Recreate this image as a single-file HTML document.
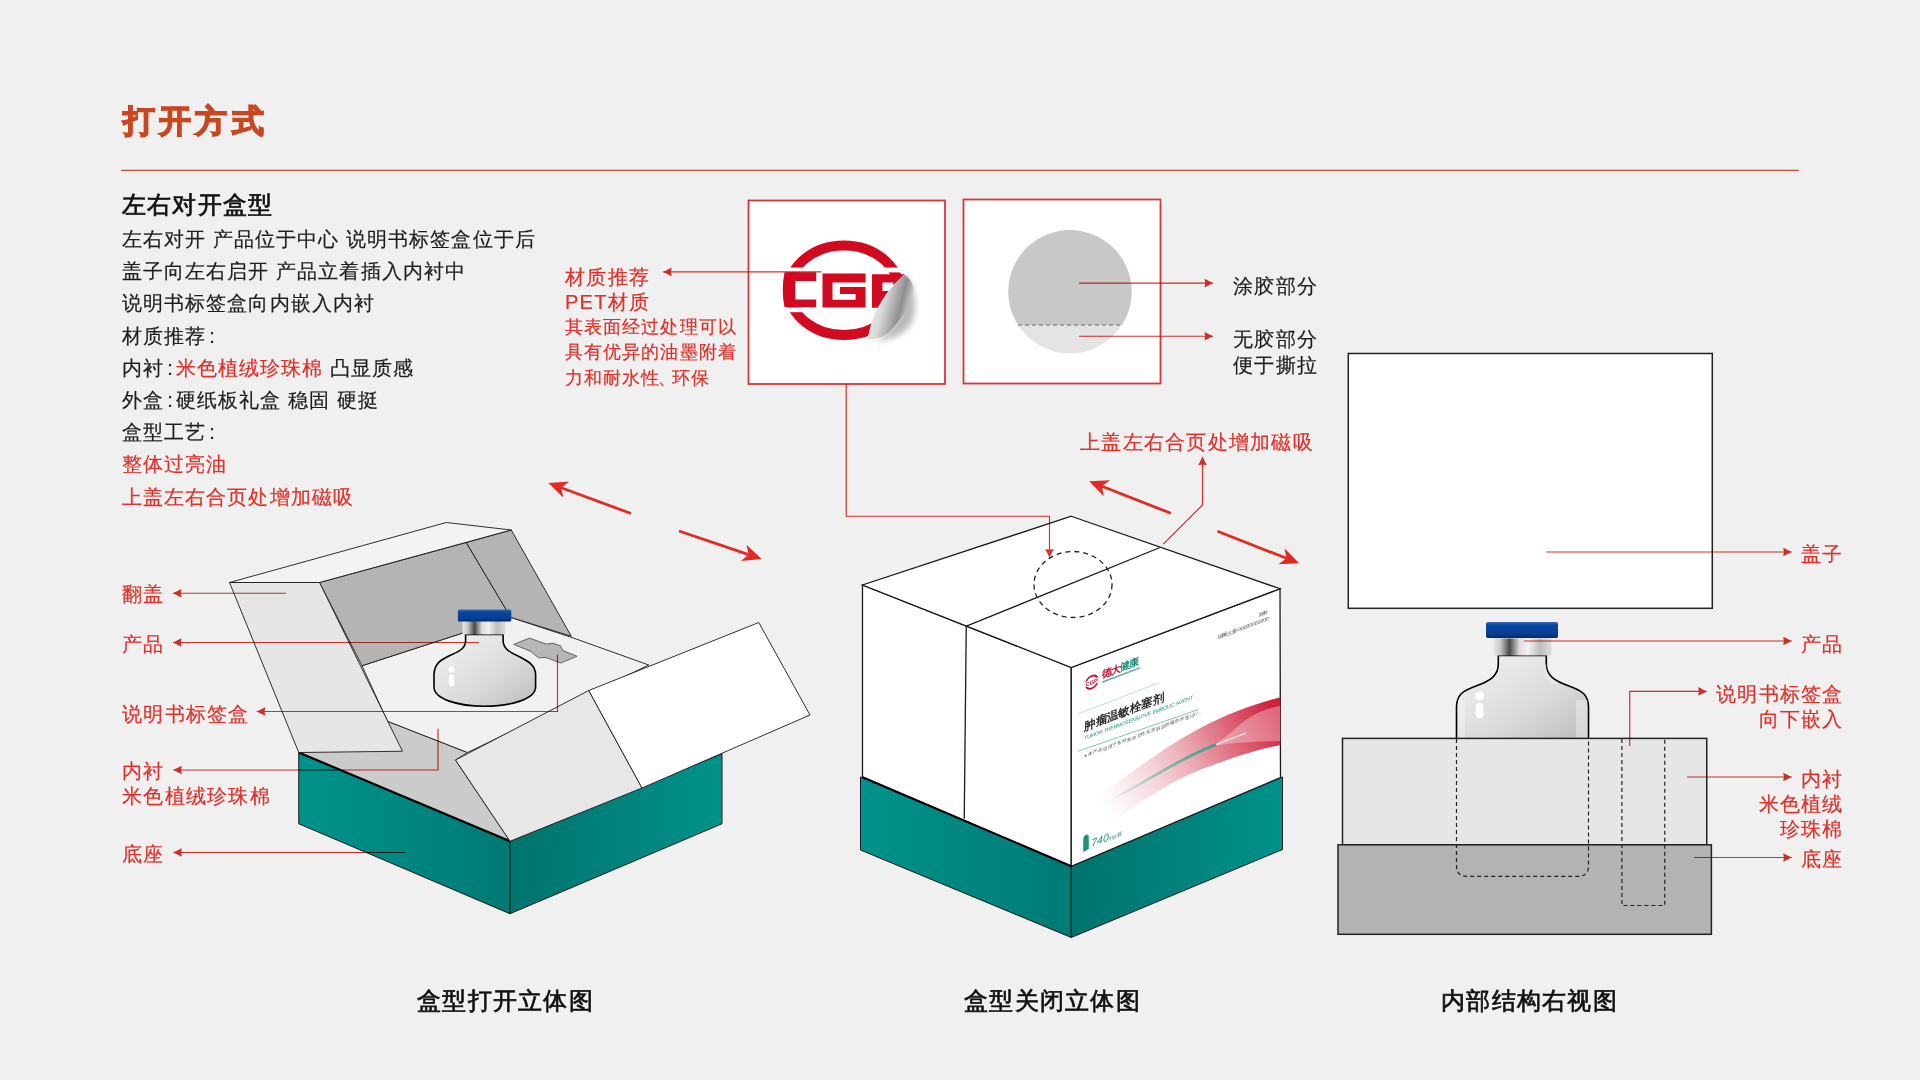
<!DOCTYPE html>
<html><head><meta charset="utf-8">
<style>
html,body{margin:0;padding:0}
body{width:1920px;height:1080px;overflow:hidden;background:#f0f0f0;position:relative;font-family:"Liberation Sans",sans-serif;color:#1e1e1e}
.t{position:absolute;white-space:nowrap;font-size:20px;line-height:32px;letter-spacing:1.25px;-webkit-text-stroke:0.2px currentColor}
.r{color:#e0302a}
.n{line-height:25.5px}
.ra{text-align:right;line-height:25px}
svg{position:absolute;left:0;top:0}
.cap{top:985px;font-size:24px;line-height:32px;letter-spacing:1.3px;color:#111;-webkit-text-stroke:0.7px #111}
</style></head><body>
<svg width="1920" height="1080" viewBox="0 0 1920 1080">
<defs>
<linearGradient id="tealL" x1="0" y1="0" x2="1" y2="0"><stop offset="0" stop-color="#00938b"/><stop offset="1" stop-color="#007a74"/></linearGradient>
<linearGradient id="tealR" x1="0" y1="0" x2="1" y2="0"><stop offset="0" stop-color="#00736d"/><stop offset="1" stop-color="#00928a"/></linearGradient>
<linearGradient id="cap" x1="0" y1="0" x2="0" y2="1"><stop offset="0" stop-color="#3d6db5"/><stop offset="0.2" stop-color="#0a47a0"/><stop offset="0.75" stop-color="#063e92"/><stop offset="1" stop-color="#042a66"/></linearGradient>
<linearGradient id="ring" x1="0" y1="0" x2="1" y2="0"><stop offset="0" stop-color="#e8e8e8"/><stop offset="0.12" stop-color="#c9c9c9"/><stop offset="0.28" stop-color="#4a4a4a"/><stop offset="0.45" stop-color="#dcdcdc"/><stop offset="0.6" stop-color="#f2f2f2"/><stop offset="0.8" stop-color="#bdbdbd"/><stop offset="1" stop-color="#e0e0e0"/></linearGradient>
<linearGradient id="glass" x1="0" y1="0" x2="1" y2="1"><stop offset="0" stop-color="#f4f4f6"/><stop offset="0.6" stop-color="#dadadc"/><stop offset="1" stop-color="#bdbbbd"/></linearGradient>
<linearGradient id="peel" x1="0" y1="0" x2="1" y2="1"><stop offset="0" stop-color="#f7f7f7"/><stop offset="0.5" stop-color="#d9d9d9"/><stop offset="0.8" stop-color="#9c9c9c"/><stop offset="1" stop-color="#e6e6e6"/></linearGradient>
<radialGradient id="shadow" cx="0.5" cy="0.5" r="0.5"><stop offset="0" stop-color="#000" stop-opacity="0.25"/><stop offset="1" stop-color="#000" stop-opacity="0"/></radialGradient>
<linearGradient id="swoosh" x1="0" y1="1" x2="1" y2="0"><stop offset="0" stop-color="#ffffff" stop-opacity="0"/><stop offset="0.45" stop-color="#e79aa6" stop-opacity="0.6"/><stop offset="1" stop-color="#d0283f"/></linearGradient>
</defs>
<line x1="121" y1="170.4" x2="1799" y2="170.4" stroke="#bf5534" stroke-width="1.3"/>
<polygon points="298.75,752.50 510.00,841.25 510.00,913.75 298.75,823.75" fill="url(#tealL)" stroke="#1a1a1a" stroke-width="1"/>
<polygon points="510.00,841.25 722.00,753.75 722.00,823.75 510.00,913.75" fill="url(#tealR)" stroke="#1a1a1a" stroke-width="1"/>
<polygon points="298.75,752.50 387.50,721.25 467.50,752.50 455.50,760.00 510.00,841.25" fill="#cbcbcb" stroke="#1a1a1a" stroke-width="0.8"/>
<line x1="298.75" y1="752.5" x2="510" y2="841.25" stroke="#000" stroke-width="2.2"/>
<polygon points="362.00,665.75 510.75,617.40 571.90,637.50 648.75,665.00 467.50,752.50 387.50,721.25" fill="#f1f1f1" stroke="#1a1a1a" stroke-width="0.9"/>
<polygon points="319.50,582.50 466.25,542.50 510.75,617.40 362.00,665.75" fill="#b4b4b4" stroke="#1a1a1a" stroke-width="0.9"/>
<polygon points="466.25,542.50 511.25,530.00 571.25,636.25 510.75,617.40" fill="#b4b4b4" stroke="#1a1a1a" stroke-width="0.9"/>
<polygon points="229.50,582.50 446.25,522.50 511.25,530.00 319.50,582.50" fill="#f3f3f3" stroke="#1a1a1a" stroke-width="0.9"/>
<polygon points="229.50,582.50 319.50,582.50 402.50,751.25 298.75,752.50" fill="#e6e6e6" stroke="#1a1a1a" stroke-width="0.9"/>
<polygon points="455.50,760.00 588.75,690.50 642.00,788.00 510.00,841.25" fill="#e7e7e7" stroke="#1a1a1a" stroke-width="0.9"/>
<polygon points="588.75,690.50 758.75,622.50 810.00,715.00 642.00,788.00" fill="#ffffff" stroke="#1a1a1a" stroke-width="0.9"/>
<polygon points="513.75,644.40 529.40,638.10 546.00,644.00 553.00,643.20 560.50,645.80 563.00,650.60 577.00,656.25 560.60,663.10 546.00,657.50 538.50,657.80 534.50,654.50 531.00,651.50" fill="#b7b7b7" stroke="#333" stroke-width="0.7"/>
<path d="M465.6,634.4 L465.6,640.5 C465.6,648 460,651 452,654.5 C442,659 434,663 434,675 L434,687 C434,699 458,706.25 484.4,706.25 C511,706.25 535.6,699 535.6,687 L535.6,675 C535.6,665 528,661 518,656 C509,652 503.1,648 503.1,640.5 L503.1,634.4 Z" fill="url(#glass)" stroke="#000" stroke-width="1.6"/>
<rect x="462.5" y="621.25" width="43.1" height="13.2" fill="url(#ring)"/>
<rect x="457.9" y="609.6" width="53.4" height="11.8" rx="1.5" fill="url(#cap)"/>
<circle cx="451.5" cy="669.5" r="3" fill="#fff"/><rect x="448.8" y="674.5" width="5.4" height="12" rx="2.7" fill="#fff"/>
<polygon points="860.50,777.00 1071.25,866.25 1071.25,937.50 860.50,850.00" fill="url(#tealL)" stroke="#1a1a1a" stroke-width="1"/>
<polygon points="1071.25,866.25 1282.50,777.00 1282.50,849.50 1071.25,937.50" fill="url(#tealR)" stroke="#1a1a1a" stroke-width="1"/>
<polygon points="862.50,585.00 1071.25,667.50 1071.25,866.25 862.50,777.00" fill="#fff" stroke="#1a1a1a" stroke-width="1.3"/>
<polygon points="1071.25,667.50 1280.00,588.75 1280.50,777.50 1071.25,866.25" fill="#fff" stroke="#1a1a1a" stroke-width="1.3"/>
<polygon points="1071.25,516.25 1280.00,588.75 1071.25,667.50 862.50,585.00" fill="#fff" stroke="#1a1a1a" stroke-width="1.3"/>
<line x1="862" y1="777" x2="1071.25" y2="866.25" stroke="#000" stroke-width="2"/>
<polyline points="1160.00,547.50 966.25,626.25 964.25,818.75" fill="none" stroke="#1a1a1a" stroke-width="1.3"/>
<ellipse cx="1073" cy="584.5" rx="39" ry="33" fill="none" stroke="#222" stroke-width="1.3" stroke-dasharray="5 4"/>
<g transform="translate(1071.25,667.5) skewY(-20.669)">
<linearGradient id="sw2" x1="0" y1="0" x2="1" y2="0"><stop offset="0" stop-color="#f3c9cf" stop-opacity="0"/><stop offset="0.35" stop-color="#eeb3bc" stop-opacity="0.55"/><stop offset="0.7" stop-color="#e07a8a"/><stop offset="1" stop-color="#cf1d3a"/></linearGradient>
<linearGradient id="sw3" x1="0" y1="0" x2="1" y2="0"><stop offset="0" stop-color="#ffffff" stop-opacity="0"/><stop offset="0.5" stop-color="#ffffff" stop-opacity="0.35"/><stop offset="1" stop-color="#ffffff" stop-opacity="0.5"/></linearGradient>
<circle cx="20.5" cy="22.4" r="6.2" fill="none" stroke="#c8102e" stroke-width="1.8"/>
<rect x="13.5" y="19.8" width="14" height="5.2" fill="#fff"/><text x="20.5" y="24.6" font-size="5.6" font-weight="700" fill="#c8102e" text-anchor="middle" font-family="Liberation Sans">CGP</text>
<text x="30.5" y="22" font-size="10" font-weight="700" fill="#c8102e" font-family="Liberation Sans" letter-spacing="-0.5">德大</text><text x="49" y="22" font-size="10" font-weight="700" fill="#1f8f7a" font-family="Liberation Sans" letter-spacing="-0.5">健康</text>
<rect x="31" y="25.5" width="38" height="1.6" fill="#1f8f7a" opacity="0.7"/>
<line x1="7" y1="49" x2="87" y2="48.4" stroke="#9ccfc3" stroke-width="0.6"/>
<text x="13" y="68" font-size="11.5" font-weight="700" fill="#2a2a2a" font-family="Liberation Sans" letter-spacing="-0.2">肿瘤温敏栓塞剂</text>
<text x="13" y="77.5" font-size="5.2" fill="#1f8f7a" font-family="Liberation Sans" letter-spacing="-0.15">TUMOR THERMOSENSITIVE EMBOLIC AGENT</text>
<line x1="7" y1="86.3" x2="127" y2="90" stroke="#3aa892" stroke-width="0.6"/>
<text x="13" y="95" font-size="4.5" fill="#555" font-family="Liberation Sans">● 本产品适用于各种富血管性实质脏器肿瘤的栓塞治疗。</text>
<text x="197" y="20" font-size="4.8" fill="#444" text-anchor="end" font-family="Liberation Sans">商标</text>
<text x="197.5" y="27" font-size="5" fill="#444" text-anchor="end" font-family="Liberation Sans">国械注册:00000000000</text>
<path d="M12,177 L12,189 L17.5,188 L17.5,176 Q17.5,173 15,173 Q12,173 12,177 Z" fill="#1f8f7a"/><text x="20" y="187" font-size="10.5" fill="#1f8f7a" font-family="Liberation Sans" font-style="italic">740<tspan font-size="5">mg/瓶</tspan></text>
</g>
<linearGradient id="sw4" gradientUnits="userSpaceOnUse" x1="1105" y1="815" x2="1280" y2="720"><stop offset="0" stop-color="#f5d5da" stop-opacity="0"/><stop offset="0.3" stop-color="#efbac2" stop-opacity="0.6"/><stop offset="0.65" stop-color="#e38392"/><stop offset="1" stop-color="#d0203c"/></linearGradient>
<path d="M1080,812 C1100,795 1125,776.3 1162.6,750.4 C1195,730 1225,712 1280.2,697.2 L1280.2,745.2 C1260,749 1240,755 1199.6,770 C1175,780 1150,795 1121.9,815.2 C1110,824 1100,832 1090,840 Z" fill="url(#sw4)"/>
<path d="M1216,744 C1232,735 1245,712 1280.2,706 L1280.2,741 C1255,742 1235,742 1216,746 Z" fill="#fff" opacity="0.33"/>
<linearGradient id="cath" gradientUnits="userSpaceOnUse" x1="1110" y1="800" x2="1216" y2="744"><stop offset="0" stop-color="#3fae96" stop-opacity="0"/><stop offset="0.45" stop-color="#3fae96" stop-opacity="0.5"/><stop offset="1" stop-color="#33a58c"/></linearGradient>
<path d="M1110,800 C1150,780 1180,758 1216.3,744.5" stroke="url(#cath)" stroke-width="2.6" fill="none"/>
<line x1="1216.3" y1="744.5" x2="1246" y2="733" stroke="#fff" stroke-width="1.3" opacity="0.85"/>
<rect x="748.5" y="200.5" width="196.5" height="183.5" fill="#fff" stroke="#d9363a" stroke-width="1.8"/>
<rect x="963.5" y="199.5" width="197" height="184" fill="#fff" stroke="#d9363a" stroke-width="1.8"/>
<defs><filter id="blur3" x="-50%" y="-50%" width="200%" height="200%"><feGaussianBlur stdDeviation="3"/></filter><linearGradient id="pg" x1="0" y1="0" x2="1" y2="0.35"><stop offset="0" stop-color="#fafafa"/><stop offset="0.45" stop-color="#d8d8d8"/><stop offset="0.8" stop-color="#8f8f8f"/><stop offset="1" stop-color="#cfcfcf"/></linearGradient></defs>
<path d="M906,276 C914,285 918,305 912,322 C905,334 892,340 876,341 C895,330 904,310 906,276 Z" fill="#000" opacity="0.28" filter="url(#blur3)"/>
<clipPath id="lgclip"><path d="M740,200 L940,200 L940,262 L904.4,274.4 C890,287 880,301 872.8,318.9 C870,328 868.5,334 867.8,340 L740,360 Z"/></clipPath>
<g clip-path="url(#lgclip)">
<ellipse cx="844" cy="290.3" rx="55" ry="44.7" fill="none" stroke="#d10a22" stroke-width="10"/>
<rect x="770" y="267.6" width="160" height="4.8" fill="#fff"/><rect x="770" y="307.4" width="160" height="4.8" fill="#fff"/>
<path d="M784.5,272.3 L816.2,272.3 L816.2,281 L795.3,281 L795.3,299.5 L816.2,299.5 L816.2,307.2 L784.5,307.2 Q781,290 784.5,272.3 Z" fill="#d10a22"/>
<path d="M822.5,273.6 L865.6,273.6 L865.6,282.6 L832.5,282.6 L832.5,299.8 L855.6,299.8 L855.6,294 L840,294 L840,287 L865.6,287 L865.6,307.6 L822.5,307.6 Z" fill="#d10a22"/>
<path d="M871.9,274.2 L905,274.2 L905,300 L882.5,300 L882.5,307.8 L871.9,307.8 Z M882.5,282.6 L882.5,291 L897,291 L897,282.6 Z" fill="#d10a22" fill-rule="evenodd"/>
</g>
<path d="M904.4,274.4 C890,287 880,301 872.8,318.9 C870,328 868.5,334 867.8,340 C876,339 883,337 888,333 C900,322 910,305 913,292 C914,284 910,278 904.4,274.4 Z" fill="url(#pg)"/>
<clipPath id="c2"><circle cx="1070" cy="291.7" r="61.7"/></clipPath>
<g clip-path="url(#c2)"><rect x="1000" y="220" width="140" height="105" fill="#c8c8c8"/><rect x="1000" y="325" width="140" height="40" fill="#e4e4e4"/></g>
<line x1="1018" y1="325" x2="1122" y2="325" stroke="#8c8c8c" stroke-width="1.3" stroke-dasharray="4 3"/>
<g style="mix-blend-mode:multiply"><polyline points="1079.00,283.10 1213.00,283.10" fill="none" stroke="#dc3029" stroke-width="1.15"/><polygon points="1213.00,283.10 1204.50,287.40 1205.18,283.10 1204.50,278.80" fill="#dc3029"/></g>
<g style="mix-blend-mode:multiply"><polyline points="1079.00,336.20 1213.00,336.20" fill="none" stroke="#dc3029" stroke-width="1.15"/><polygon points="1213.00,336.20 1204.50,340.50 1205.18,336.20 1204.50,331.90" fill="#dc3029"/></g>
<g style="mix-blend-mode:multiply"><polyline points="821.50,271.90 663.20,271.90" fill="none" stroke="#dc3029" stroke-width="1.15"/><polygon points="663.20,271.90 671.70,267.60 671.02,271.90 671.70,276.20" fill="#dc3029"/></g>
<g style="mix-blend-mode:multiply"><polyline points="846.20,384.00 846.20,516.25 1049.50,516.25 1049.50,557.50" fill="none" stroke="#dc3029" stroke-width="1.15"/><polygon points="1049.50,557.50 1045.20,549.00 1049.50,549.68 1053.80,549.00" fill="#dc3029"/></g>
<g style="mix-blend-mode:multiply"><polyline points="1163.30,544.20 1202.50,505.00 1202.50,456.70" fill="none" stroke="#dc3029" stroke-width="1.15"/><polygon points="1202.50,456.70 1206.80,465.20 1202.50,464.52 1198.20,465.20" fill="#dc3029"/></g>
<line x1="1170.8" y1="513.3" x2="1101.94" y2="486.29" stroke="#e02a22" stroke-width="2.8"/><polygon points="1089.20,481.30 1109.99,480.32 1101.94,486.29 1103.79,496.15" fill="#e02a22"/>
<line x1="1217.5" y1="531.3" x2="1286.46" y2="558.31" stroke="#e02a22" stroke-width="2.8"/><polygon points="1299.20,563.30 1278.41,564.29 1286.46,558.31 1284.61,548.46" fill="#e02a22"/>
<line x1="631" y1="513.5" x2="561.23" y2="487.74" stroke="#e02a22" stroke-width="2.8"/><polygon points="548.40,483.00 569.17,481.61 561.23,487.74 563.28,497.56" fill="#e02a22"/>
<line x1="679" y1="531" x2="748.74" y2="554.61" stroke="#e02a22" stroke-width="2.8"/><polygon points="761.70,559.00 740.98,560.96 748.74,554.61 746.43,544.86" fill="#e02a22"/>
<g style="mix-blend-mode:multiply"><polyline points="286.00,593.25 173.00,593.25" fill="none" stroke="#dc3029" stroke-width="1.15"/><polygon points="173.00,593.25 181.50,588.95 180.82,593.25 181.50,597.55" fill="#dc3029"/></g>
<g style="mix-blend-mode:multiply"><polyline points="479.00,642.50 173.00,642.50" fill="none" stroke="#dc3029" stroke-width="1.15"/><polygon points="173.00,642.50 181.50,638.20 180.82,642.50 181.50,646.80" fill="#dc3029"/></g>
<g style="mix-blend-mode:multiply"><polyline points="557.50,654.40 557.50,711.50 256.70,711.50" fill="none" stroke="#dc3029" stroke-width="1.15"/><polygon points="256.70,711.50 265.20,707.20 264.52,711.50 265.20,715.80" fill="#dc3029"/></g>
<g style="mix-blend-mode:multiply"><polyline points="438.00,728.75 438.00,770.00 173.30,770.00" fill="none" stroke="#dc3029" stroke-width="1.15"/><polygon points="173.30,770.00 181.80,765.70 181.12,770.00 181.80,774.30" fill="#dc3029"/></g>
<g style="mix-blend-mode:multiply"><polyline points="405.00,852.50 173.30,852.50" fill="none" stroke="#dc3029" stroke-width="1.15"/><polygon points="173.30,852.50 181.80,848.20 181.12,852.50 181.80,856.80" fill="#dc3029"/></g>
<rect x="1348.3" y="353.5" width="364" height="254.8" fill="#fff" stroke="#222" stroke-width="1.5"/>
<path d="M1498.3,655.4 L1498.3,664 C1498.3,676 1490,681 1476,686 C1462,691 1456.5,695 1456.5,708 L1456.5,739 L1588.5,739 L1588.5,708 C1588.5,695 1583,691 1569,686 C1555,681 1546.3,676 1546.3,664 L1546.3,655.4 Z" fill="url(#glass)" stroke="#000" stroke-width="1.6"/>
<rect x="1493.2" y="638.5" width="58.3" height="17" fill="url(#ring)"/>
<rect x="1486" y="621.9" width="72" height="16" rx="2" fill="url(#cap)"/>
<rect x="1458" y="700" width="7" height="38" fill="#fff" opacity="0.3"/><rect x="1576" y="700" width="11.5" height="38" fill="#fff" opacity="0.35"/><path d="M1546.3,664 C1546.3,676 1552,680 1560,684 L1552,684 C1546,680 1544,676 1544,664 Z" fill="#fff" opacity="0.3"/>
<circle cx="1479.5" cy="696.2" r="4.4" fill="#fff"/><rect x="1475.7" y="702.7" width="7.7" height="15.6" rx="3.8" fill="#fff"/>
<rect x="1342.5" y="738.4" width="364.25" height="106.4" fill="#e6e6e6" stroke="#222" stroke-width="1.5"/>
<rect x="1338" y="844.8" width="373.4" height="89.5" fill="#b3b3b3" stroke="#222" stroke-width="1.5"/>
<path d="M1456.5,739 L1456.5,866 Q1456.5,876.3 1467,876.3 L1578,876.3 Q1588.5,876.3 1588.5,866 L1588.5,739" fill="none" stroke="#222" stroke-width="1.2" stroke-dasharray="4 3"/>
<path d="M1621.9,739 L1621.9,905.5 L1664.75,905.5 L1664.75,739" fill="none" stroke="#222" stroke-width="1.2" stroke-dasharray="4 3"/>
<g style="mix-blend-mode:multiply"><polyline points="1546.00,552.00 1791.70,552.00" fill="none" stroke="#dc3029" stroke-width="1.15"/><polygon points="1791.70,552.00 1783.20,556.30 1783.88,552.00 1783.20,547.70" fill="#dc3029"/></g>
<g style="mix-blend-mode:multiply"><polyline points="1524.00,641.00 1791.70,641.00" fill="none" stroke="#dc3029" stroke-width="1.15"/><polygon points="1791.70,641.00 1783.20,645.30 1783.88,641.00 1783.20,636.70" fill="#dc3029"/></g>
<g style="mix-blend-mode:multiply"><polyline points="1629.75,746.00 1629.75,691.40 1706.70,691.40" fill="none" stroke="#dc3029" stroke-width="1.15"/><polygon points="1706.70,691.40 1698.20,695.70 1698.88,691.40 1698.20,687.10" fill="#dc3029"/></g>
<g style="mix-blend-mode:multiply"><polyline points="1687.00,777.00 1791.70,777.00" fill="none" stroke="#dc3029" stroke-width="1.15"/><polygon points="1791.70,777.00 1783.20,781.30 1783.88,777.00 1783.20,772.70" fill="#dc3029"/></g>
<g style="mix-blend-mode:multiply"><polyline points="1694.00,857.50 1791.70,857.50" fill="none" stroke="#dc3029" stroke-width="1.15"/><polygon points="1791.70,857.50 1783.20,861.80 1783.88,857.50 1783.20,853.20" fill="#dc3029"/></g>
</svg>

<div class="t" style="left:123px;top:100.5px;font-size:32px;line-height:40px;font-weight:700;letter-spacing:4.2px;color:#c9471f;-webkit-text-stroke:1.4px #c9471f">打开方式</div>

<div class="t" style="left:122px;top:188.5px;font-size:24px;line-height:32px;letter-spacing:1.2px;color:#111;-webkit-text-stroke:0.7px #111">左右对开盒型</div>
<div class="t" style="left:122px;top:223px;line-height:32.2px;letter-spacing:1.08px">左右对开 产品位于中心 说明书标签盒位于后<br>盖子向左右启开 产品立着插入内衬中<br>说明书标签盒向内嵌入内衬<br>材质推荐<span style="margin-left:3px">:</span><br>内衬<span style="margin:0 2px 0 3px">:</span><span class="r">米色植绒珍珠棉</span> 凸显质感<br>外盒<span style="margin:0 2px 0 3px">:</span>硬纸板礼盒 稳固 硬挺<br>盒型工艺<span style="margin-left:3px">:</span><br><span class="r">整体过亮油</span><br><span class="r">上盖左右合页处增加磁吸</span></div>

<div class="t r n" style="left:565px;top:264.5px;">材质推荐<br>PET材质</div>
<div class="t r" style="left:565px;top:315px;font-size:18px;letter-spacing:1.1px;line-height:25.3px">其表面经过处理可以<br>具有优异的油墨附着<br>力和耐水性<span style="margin:0 -5px 0 -3px">、</span>环保</div>

<div class="t" style="left:1233px;top:272.5px;line-height:26px">涂胶部分</div>
<div class="t" style="left:1233px;top:325.5px;line-height:26px">无胶部分<br>便于撕拉</div>

<div class="t r" style="left:1080px;top:426px;">上盖左右合页处增加磁吸</div>

<div class="t r" style="left:122px;top:582px;line-height:25px">翻盖</div>
<div class="t r" style="left:122px;top:632px;line-height:25px">产品</div>
<div class="t r" style="left:122px;top:702px;line-height:25px">说明书标签盒</div>
<div class="t r" style="left:122px;top:759px;line-height:25px">内衬<br>米色植绒珍珠棉</div>
<div class="t r" style="left:122px;top:842px;line-height:25px">底座</div>

<div class="t r ra" style="right:76.5px;top:542px;">盖子</div>
<div class="t r ra" style="right:76.5px;top:632px;">产品</div>
<div class="t r ra" style="right:76.5px;top:682px;">说明书标签盒<br>向下嵌入</div>
<div class="t r ra" style="right:76.5px;top:767px;">内衬<br>米色植绒<br>珍珠棉</div>
<div class="t r ra" style="right:76.5px;top:847px;">底座</div>

<div class="t cap" style="left:417px">盒型打开立体图</div>
<div class="t cap" style="left:964px">盒型关闭立体图</div>
<div class="t cap" style="left:1441px">内部结构右视图</div>
</body></html>
